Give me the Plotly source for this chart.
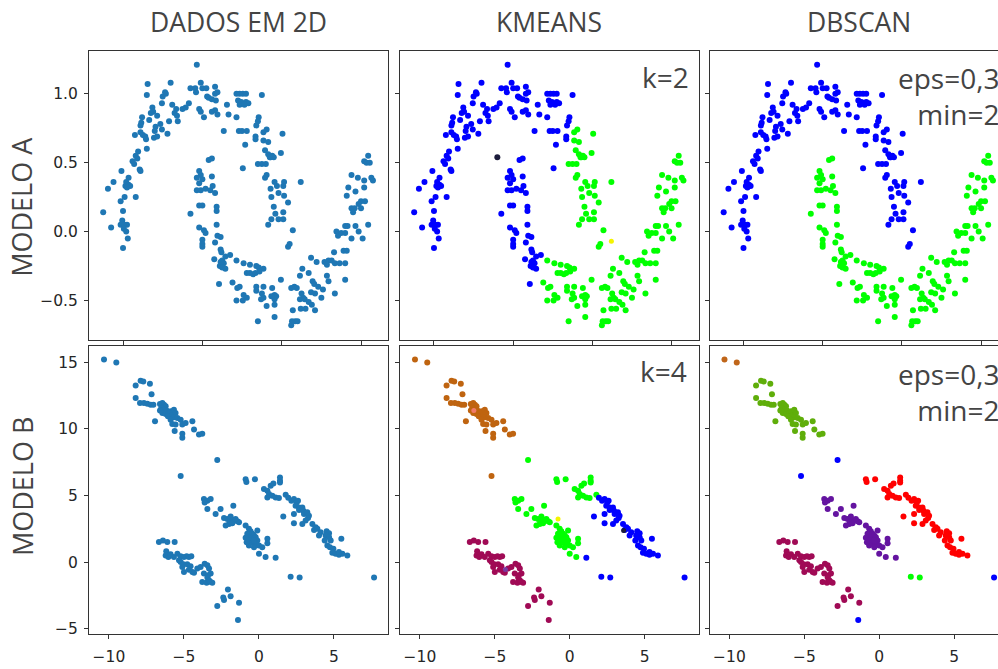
import plotly.graph_objects as go

# ---------------- DATA ----------------
# Model A (two moons), grouped by cluster labels (KMeans / DBSCAN)
# upper moon, KMeans blue
MOON_UPPER_KBLUE = [
    (-0.07, 1.21), (-0.69, 1.07), (-0.40, 1.08), (-0.70, 0.99), (-0.50, 0.98), (-0.47, 1.01), (-0.46, 1.00),
    (-0.51, 0.93), (-0.38, 0.92), (-0.33, 0.89), (-0.35, 0.86), (-0.32, 0.84), (-0.31, 0.80), (-0.42, 0.80),
    (-0.63, 0.90), (-0.62, 0.87), (-0.65, 0.86), (-0.57, 0.84), (-0.76, 0.83), (-0.77, 0.79), (-0.78, 0.77),
    (-0.67, 0.81), (-0.59, 0.76), (-0.53, 0.78), (-0.51, 0.74), (-0.44, 0.71), (-0.60, 0.73), (-0.61, 0.68),
    (-0.57, 0.69), (-0.78, 0.72), (-0.75, 0.70), (-0.72, 0.69), (-0.71, 0.67), (-0.85, 0.70), (-0.70, 0.60),
    (-0.81, 0.58), (-0.84, 0.55), (-0.82, 0.53), (-0.86, 0.49), (-0.88, 0.51), (-0.79, 0.45), (-0.78, 0.44),
    (-1.02, 0.44), (-1.12, 0.36), (-1.19, 0.31), (-0.93, 0.39), (-0.96, 0.36), (-0.93, 0.34), (-0.91, 0.33),
    (-0.97, 0.33), (-0.95, 0.32), (-0.17, 0.93), (-0.21, 0.90), (-0.25, 0.89), (-0.15, 1.04), (-0.09, 1.04),
    (-0.08, 1.01), (-0.02, 1.08), (0.00, 1.04), (0.05, 1.04), (-0.04, 0.89), (-0.02, 0.87), (0.02, 0.83),
    (0.06, 0.98), (0.08, 0.97), (0.12, 0.96), (0.16, 1.05), (0.16, 1.00), (0.19, 1.01), (0.17, 0.95),
    (0.16, 0.88), (0.19, 0.85), (0.12, 0.87), (0.31, 0.92), (0.33, 0.85), (0.27, 0.73),
    (-1.03, 0.22), (-0.98, 0.25), (-0.84, 0.25), (-1.25, 0.14), (-1.00, 0.15), (-1.15, 0.03), (-1.01, 0.08),
    (-1.03, 0.05), (-0.98, 0.05), (-0.95, 0.05), (-0.99, 0.02), (-0.96, 0.00), (-0.94, -0.05), (-1.00, -0.12),
    (0.43, 1.00), (0.47, 1.00), (0.51, 1.00), (0.55, 1.00), (0.45, 0.95), (0.49, 0.94), (0.55, 0.94),
    (0.58, 0.93), (0.47, 0.92), (0.53, 0.92), (0.75, 0.99), (0.43, 0.83), (0.71, 0.83), (0.70, 0.80),
    (0.68, 0.77), (0.46, 0.73), (0.50, 0.73), (0.56, 0.73), (0.67, 0.69), (0.67, 0.67), (0.54, 0.63),
    (0.51, 0.46),
]
# upper moon, KMeans green
MOON_UPPER_KGREEN = [
    (0.81, 0.74), (0.77, 0.72), (0.77, 0.66), (0.83, 0.65), (1.01, 0.71), (0.79, 0.59), (0.83, 0.56),
    (0.86, 0.54), (0.88, 0.55), (0.90, 0.54), (0.85, 0.54), (0.99, 0.57), (0.70, 0.49), (0.75, 0.49),
    (0.80, 0.49), (0.81, 0.41), (0.79, 0.39), (0.91, 0.36), (0.94, 0.33), (1.03, 0.36), (1.02, 0.33),
    (0.96, 0.28), (0.86, 0.31), (1.24, 0.36), (0.87, 0.25), (1.03, 0.26), (0.90, 0.18), (1.02, 0.14),
    (1.08, 0.21), (0.92, 0.13), (0.87, 0.09), (0.96, 0.09), (1.02, 0.09), (0.83, 0.05), (1.14, 0.01),
    (1.08, -0.11), (1.10, -0.09),
]
# lower moon, KMeans blue
MOON_LOWER_KBLUE = [
    (0.08, 0.52), (0.12, 0.53), (-0.04, 0.44), (-0.02, 0.41), (-0.07, 0.39), (0.00, 0.38), (0.12, 0.40),
    (-0.04, 0.35), (0.13, 0.33), (-0.07, 0.30), (-0.02, 0.30), (0.04, 0.31), (0.10, 0.30), (0.16, 0.28),
    (-0.15, 0.13), (-0.04, 0.19), (0.00, 0.19), (0.18, 0.18), (0.18, 0.15), (-0.04, 0.03), (0.02, 0.01),
    (0.04, -0.01), (0.00, -0.06), (0.00, -0.09), (0.00, -0.11), (0.18, 0.05), (0.19, -0.03), (0.23, -0.04),
    (0.16, -0.08), (0.23, -0.13), (0.24, -0.15), (0.29, -0.18), (0.35, -0.17), (0.15, -0.20), (0.25, -0.21),
    (0.27, -0.23), (0.22, -0.25), (0.25, -0.26), (0.29, -0.27), (0.23, -0.22), (0.21, -0.38),
]
# lower moon, KMeans green
MOON_LOWER_KGREEN = [
    (0.43, -0.21), (0.38, -0.37), (0.44, -0.41), (0.43, -0.50), (0.52, -0.23), (0.60, -0.24), (0.68, -0.25),
    (0.71, -0.26), (0.77, -0.27), (0.56, -0.30), (0.60, -0.30), (0.64, -0.31), (0.67, -0.30), (0.72, -0.29),
    (0.47, -0.40), (0.68, -0.40), (0.68, -0.43), (0.77, -0.40), (0.75, -0.45), (0.77, -0.48), (0.74, -0.49),
    (0.88, -0.41), (0.91, -0.46), (0.91, -0.49), (0.93, -0.47), (0.87, -0.47), (0.91, -0.53), (0.52, -0.46),
    (0.56, -0.48), (0.51, -0.50), (0.81, -0.54), (0.99, -0.35), (0.70, -0.65), (0.91, -0.62),
    (1.16, -0.40), (1.19, -0.41), (1.12, -0.41), (1.25, -0.45), (1.27, -0.48), (1.23, -0.49), (1.29, -0.49),
    (1.34, -0.51), (1.38, -0.53), (1.50, -0.48), (1.24, -0.56), (1.30, -0.56), (1.42, -0.57), (1.14, -0.57),
    (1.17, -0.65), (1.20, -0.65), (1.13, -0.65), (1.12, -0.68), (1.37, -0.19), (1.44, -0.22), (1.54, -0.22),
    (1.59, -0.21), (1.63, -0.21), (1.67, -0.23), (1.73, -0.23), (1.80, -0.23), (1.57, -0.24), (1.26, -0.27),
    (1.34, -0.30), (1.23, -0.32), (1.57, -0.32), (1.59, -0.36), (1.39, -0.36), (1.41, -0.38), (1.46, -0.40),
    (1.52, -0.42), (1.80, -0.35), (1.37, -0.44), (1.42, -0.45), (1.67, -0.45), (1.66, -0.15), (1.78, -0.14),
    (1.82, -0.14), (1.69, 0.00), (1.71, -0.03), (1.75, -0.01), (1.80, -0.01), (1.88, -0.05), (2.02, -0.05),
    (1.80, 0.04), (1.83, 0.04), (1.93, 0.04), (1.97, 0.00), (2.09, 0.05), (1.88, 0.17), (1.92, 0.17),
    (1.90, 0.14), (2.00, 0.17), (2.00, 0.22), (2.05, 0.22), (1.97, 0.20), (2.09, 0.55), (2.04, 0.51),
    (2.07, 0.50), (2.11, 0.50), (1.88, 0.41), (1.96, 0.39), (2.04, 0.37), (2.13, 0.39), (2.15, 0.37),
    (1.84, 0.32), (1.93, 0.29), (2.04, 0.32), (1.82, 0.26),
]
MOON_KM_CENTROIDS = [(-0.20, 0.54), (1.24, -0.07)]

# Model B (blobs)
BLOB_TOP_PAIR = [(-10.33, 15.20), (-9.51, 14.97)]
BLOB_TOPLEFT = [
    (-8.22, 13.25), (-7.89, 13.60), (-7.71, 13.55), (-7.27, 13.38), (-8.22, 12.31), (-7.93, 11.94),
    (-7.67, 11.94), (-7.44, 11.89), (-7.22, 11.81), (-7.04, 11.81), (-7.16, 12.60), (-6.93, 10.57),
    (-6.60, 11.86), (-6.44, 11.94), (-6.33, 11.81), (-6.22, 11.69), (-6.51, 11.56), (-6.33, 11.44),
    (-6.16, 11.37), (-6.60, 11.37), (-6.44, 11.19), (-6.22, 11.12), (-6.00, 11.19), (-5.89, 11.32),
    (-6.07, 10.94), (-5.78, 11.02), (-5.67, 11.44), (-5.56, 11.19), (-5.67, 10.87), (-5.89, 10.69),
    (-5.44, 10.82), (-5.22, 10.69), (-5.78, 10.37), (-5.56, 10.32), (-5.11, 10.32), (-4.89, 10.44),
    (-5.62, 9.83), (-5.11, 9.63), (-5.11, 9.33), (-4.44, 10.57), (-4.33, 9.95), (-4.00, 9.58), (-3.78, 9.63),
]
BLOB_MIDDLE = [
    (-3.67, 4.73), (-3.44, 4.61), (-3.22, 4.73), (-3.62, 4.48), (-3.44, 3.98), (-2.89, 3.62), (-2.56, 3.98),
    (-1.71, 4.24), (-2.33, 3.32), (-2.11, 3.24), (-1.89, 3.17), (-1.67, 3.12), (-1.44, 3.07), (-2.00, 2.87),
    (-2.22, 2.75), (-1.78, 2.92), (-1.33, 2.99), (-1.56, 3.24), (-1.89, 3.42), (-0.89, 2.75), (-0.67, 2.50),
    (-0.56, 2.32), (-0.78, 2.13), (-0.44, 2.13), (-0.60, 1.88), (-0.33, 2.00), (-0.22, 1.88), (-0.89, 1.83),
    (-0.67, 1.63), (-0.44, 1.50), (-0.11, 1.63), (-0.22, 1.38), (0.00, 1.26), (-0.33, 1.13), (-0.67, 1.26),
    (0.22, 1.13), (0.56, 1.75), (0.56, 1.43), (0.44, 0.39), (0.00, 0.64), (-0.11, 2.37), (-0.33, 1.63),
    (-0.82, 1.50),
]
BLOB_MIDDLE_KBLUE = [(1.11, 0.34)]
BLOB_RIGHT_KGREEN = [
    (-0.89, 6.22), (-0.84, 6.02), (-0.27, 6.22), (0.33, 5.48), (0.56, 5.36), (0.78, 5.73), (0.96, 5.90),
    (1.40, 6.35), (1.40, 6.10), (1.40, 5.98), (0.67, 5.11), (0.56, 4.86), (0.89, 4.99), (1.11, 4.86),
    (1.33, 4.81), (1.78, 5.05),
]
BLOB_RIGHT_KBLUE = [
    (1.95, 4.83), (1.62, 3.42), (2.16, 4.61), (2.33, 4.73), (2.51, 4.48), (2.60, 4.61), (2.44, 4.24),
    (2.67, 4.11), (2.78, 3.99), (2.89, 4.11), (2.67, 3.91), (2.96, 3.86), (2.33, 3.61), (2.33, 2.92),
    (3.00, 3.62), (3.22, 3.74), (3.33, 3.49), (3.27, 3.32), (3.11, 3.12), (2.89, 2.87), (3.56, 2.87),
    (3.78, 2.62), (3.67, 2.42), (3.89, 2.50), (4.11, 2.25), (4.00, 2.00), (4.51, 2.32), (4.67, 2.18),
    (4.44, 2.00), (4.67, 1.88), (4.78, 1.63), (4.38, 1.63), (4.56, 1.26), (4.73, 1.13), (4.96, 1.01),
    (4.89, 0.71), (5.11, 0.64), (5.33, 0.56), (5.56, 0.64), (5.49, 1.75), (5.89, 0.51), (5.33, 0.76),
]
BLOB_BOTTOM_PAIR = [(2.11, -1.10), (2.71, -1.15)]
BLOB_BOTTOMLEFT = [
    (-6.67, 1.51), (-6.40, 1.63), (-6.11, 1.51), (-5.62, 1.51), (-6.18, 0.83), (-6.22, 0.51), (-6.04, 0.39),
    (-5.89, 0.59), (-5.67, 0.39), (-5.44, 0.64), (-5.22, 0.44), (-5.33, 0.14), (-5.22, 0.01), (-5.00, 0.39),
    (-4.82, 0.44), (-4.67, 0.39), (-4.51, 0.44), (-5.04, -0.16), (-5.11, -0.36), (-4.78, -0.16), (-4.56, -0.31),
    (-4.67, -0.56), (-4.44, -0.73), (-5.00, -0.73), (-4.33, -0.80), (-4.11, -0.48), (-3.89, -0.36), (-3.62, -0.11),
    (-3.44, -0.23), (-3.33, -0.48), (-3.67, -0.85), (-3.40, -0.98), (-3.22, -0.85), (-3.44, -1.15), (-3.78, -1.48),
    (-3.49, -1.55), (-3.22, -1.48), (-3.11, -1.55), (-3.33, -1.35), (-2.78, -3.29), (-2.38, -2.64), (-2.33, -2.84),
    (-2.07, -2.05), (-1.89, -2.55), (-1.33, -3.04),
]
# isolated points (DBSCAN noise)
BLOB_NOISE_KGREEN = [(-2.78, 7.66)]
BLOB_NOISE_KBROWN = [(-5.22, 6.47)]
BLOB_NOISE_KMAROON = [(-1.40, -4.33)]
BLOB_NOISE_KBLUE = [(7.67, -1.15)]
BLOB_KM_CENTROIDS = [(-6.40, 11.37), (-0.78, 3.24), (3.60, 2.37), (-4.29, -0.55)]

TITLES = ["DADOS EM 2D", "KMEANS", "DBSCAN"]
ROW_LABELS = ["MODELO A", "MODELO B"]
TOP_X_TICKS = [-1, 0, 1, 2]
TOP_Y_TICKS = [-0.5, 0.0, 0.5, 1.0]
TOP_Y_TEXT = ["\u22120.5", "0.0", "0.5", "1.0"]
BOT_X_TICKS = [-10, -5, 0, 5]
BOT_X_TEXT = ["\u221210", "\u22125", "0", "5"]
BOT_Y_TICKS = [-5, 0, 5, 10, 15]
BOT_Y_TEXT = ["\u22125", "0", "5", "10", "15"]

# ---------------- COLORS ----------------
MPL_BLUE = "#1f77b4"
BLUE = "#0000ff"
LIME = "#00ff00"
BROWN = "#bf6410"
MAROON = "#a00a55"
OLIVE = "#5fae0a"
ORANGE = "#c0661a"
RED = "#ff0000"
PURPLE = "#6414a0"
TEXT = "#444444"
AX = "#333333"

W, H = 1010, 669
MS = 6

fig = go.Figure()


def add(points, color, ax, size=MS):
    if not points:
        return
    xs, ys = zip(*points)
    fig.add_trace(go.Scatter(x=list(xs), y=list(ys), mode="markers",
                             marker=dict(color=color, size=size, line=dict(width=0)),
                             xaxis="x" + ("" if ax == 1 else str(ax)),
                             yaxis="y" + ("" if ax == 1 else str(ax)),
                             showlegend=False, hoverinfo="skip"))


# Panel 1: raw moons
add(MOON_UPPER_KBLUE + MOON_UPPER_KGREEN + MOON_LOWER_KBLUE + MOON_LOWER_KGREEN, MPL_BLUE, 1)
# Panel 2: KMeans moons
add(MOON_UPPER_KBLUE + MOON_LOWER_KBLUE, BLUE, 2)
add(MOON_UPPER_KGREEN + MOON_LOWER_KGREEN, LIME, 2)
add(MOON_KM_CENTROIDS[:1], "#1c1c3c", 2)
add(MOON_KM_CENTROIDS[1:], "#f4f400", 2, 5)
# Panel 3: DBSCAN moons
add(MOON_UPPER_KBLUE + MOON_UPPER_KGREEN, BLUE, 3)
add(MOON_LOWER_KBLUE + MOON_LOWER_KGREEN, LIME, 3)

ALL_BLOBS = (BLOB_TOP_PAIR + BLOB_TOPLEFT + BLOB_MIDDLE + BLOB_MIDDLE_KBLUE + BLOB_RIGHT_KGREEN +
             BLOB_RIGHT_KBLUE + BLOB_BOTTOM_PAIR + BLOB_BOTTOMLEFT + BLOB_NOISE_KGREEN +
             BLOB_NOISE_KBROWN + BLOB_NOISE_KMAROON + BLOB_NOISE_KBLUE)
# Panel 4: raw blobs
add(ALL_BLOBS, MPL_BLUE, 4)
# Panel 5: KMeans blobs
add(BLOB_TOP_PAIR + BLOB_TOPLEFT + BLOB_NOISE_KBROWN, BROWN, 5)
add(BLOB_MIDDLE + BLOB_RIGHT_KGREEN + BLOB_NOISE_KGREEN, LIME, 5)
add(BLOB_RIGHT_KBLUE + BLOB_MIDDLE_KBLUE + BLOB_BOTTOM_PAIR + BLOB_NOISE_KBLUE, BLUE, 5)
add(BLOB_BOTTOMLEFT + BLOB_NOISE_KMAROON, MAROON, 5)
add(BLOB_KM_CENTROIDS[0:1], "#f07a6a", 5, 5)
add(BLOB_KM_CENTROIDS[1:2], "#f4f400", 5, 5)
add(BLOB_KM_CENTROIDS[2:3], "#1c1c3c", 5, 5)
add(BLOB_KM_CENTROIDS[3:4], "#7a3aa0", 5, 5)
# Panel 6: DBSCAN blobs
add(BLOB_TOP_PAIR, ORANGE, 6)
add(BLOB_TOPLEFT, OLIVE, 6)
add(BLOB_MIDDLE + BLOB_MIDDLE_KBLUE, PURPLE, 6)
add(BLOB_RIGHT_KGREEN + BLOB_RIGHT_KBLUE, RED, 6)
add(BLOB_BOTTOMLEFT, MAROON, 6)
add(BLOB_BOTTOM_PAIR, LIME, 6)
add(BLOB_NOISE_KGREEN + BLOB_NOISE_KBROWN + BLOB_NOISE_KMAROON + BLOB_NOISE_KBLUE, BLUE, 6)

# ---------------- LAYOUT ----------------
col_px = [(89, 388), (400, 698.5), (709.5, 1008)]
row_px = [(51.7, 341.7), (347.7, 638.3)]


def xd(c):
    return [col_px[c][0] / W, col_px[c][1] / W]


def yd(r):
    return [1 - row_px[r][1] / H, 1 - row_px[r][0] / H]


base = dict(showline=True, mirror=True, linecolor=AX, linewidth=1, ticks="outside", ticklen=4,
            tickwidth=1, tickcolor=AX, showgrid=False, zeroline=False, fixedrange=True,
            tickfont=dict(family="DejaVu Sans", size=15.5, color="#262626"))

layout = dict(width=W, height=H, margin=dict(l=0, r=0, t=0, b=0), plot_bgcolor="white",
              paper_bgcolor="white", showlegend=False)

for r in range(2):
    for c in range(3):
        i = r * 3 + c + 1
        sx = "" if i == 1 else str(i)
        if r == 0:
            xa = dict(base, domain=xd(c), range=[-1.429, 2.34], tickvals=TOP_X_TICKS, showticklabels=False,
                      anchor="y" + sx)
            ya = dict(base, domain=yd(r), range=[-0.784, 1.307], tickvals=TOP_Y_TICKS, ticktext=TOP_Y_TEXT,
                      showticklabels=(c == 0), ticklabelstandoff=3, anchor="x" + sx)
        else:
            xa = dict(base, domain=xd(c), range=[-11.33, 8.6], tickvals=BOT_X_TICKS, ticktext=BOT_X_TEXT,
                      showticklabels=True, ticklabelstandoff=4, anchor="y" + sx)
            ya = dict(base, domain=yd(r), range=[-5.42, 16.24], tickvals=BOT_Y_TICKS, ticktext=BOT_Y_TEXT,
                      showticklabels=(c == 0), ticklabelstandoff=3, anchor="x" + sx)
        layout["xaxis" + sx] = xa
        layout["yaxis" + sx] = ya

TFONT = dict(family="Open Sans", size=26.5, color=TEXT)
ann = []
for c, t in enumerate(TITLES):
    ann.append(dict(text=t, x=(col_px[c][0] + col_px[c][1]) / 2 / W, y=1 - 22 / H, xref="paper", yref="paper",
                    xanchor="center", yanchor="middle", showarrow=False, font=TFONT))
for r, (t, yc) in enumerate(zip(ROW_LABELS, [208, 490])):
    ann.append(dict(text=t, x=22 / W, y=1 - yc / H, xref="paper", yref="paper", textangle=-90,
                    xanchor="center", yanchor="middle", showarrow=False, font=dict(TFONT, size=27)))
AFONT = dict(family="Open Sans", size=28, color=TEXT)
ann.append(dict(text="k=2", x=691 / W, y=1 - 77 / H, xref="paper", yref="paper", xanchor="right",
                yanchor="middle", showarrow=False, font=AFONT))
ann.append(dict(text="k=4", x=689 / W, y=1 - 373 / H, xref="paper", yref="paper", xanchor="right",
                yanchor="middle", showarrow=False, font=AFONT))
ann.append(dict(text="eps=0,3<br>min=2", x=1001 / W, y=1 - 97 / H, xref="paper", yref="paper", xanchor="right",
                yanchor="middle", align="right", showarrow=False, font=AFONT))
ann.append(dict(text="eps=0,3<br>min=2", x=1001 / W, y=1 - 394 / H, xref="paper", yref="paper", xanchor="right",
                yanchor="middle", align="right", showarrow=False, font=AFONT))
layout["annotations"] = ann

fig.update_layout(**layout)

fig.write_html("out.html", config={"displayModeBar": False},
               post_script="document.documentElement.style.overflow='hidden';"
                           "document.body.style.overflow='hidden';document.body.style.margin='0';")
